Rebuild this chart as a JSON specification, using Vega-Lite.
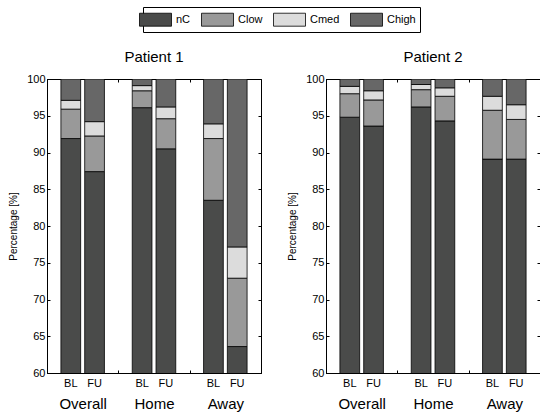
{
  "$schema": "https://vega.github.io/schema/vega-lite/v6.json",
  "padding": {"left": 8, "top": 6, "right": 0, "bottom": 0},
  "config": {
    "font": "Liberation Sans",
    "view": {"stroke": "black", "strokeWidth": 1},
    "axis": {"domainColor": "black", "tickColor": "black", "labelColor": "black", "titleColor": "black", "grid": false},
    "title": {"fontSize": 15, "fontWeight": "normal", "color": "black", "offset": 8, "anchor": "middle"}
  },
  "data": {"values": [
    {"patient": "Patient 1", "group": "Overall", "period": "BL", "cls": "nC", "rank": 1, "value": 91.9},
    {"patient": "Patient 1", "group": "Overall", "period": "BL", "cls": "Clow", "rank": 2, "value": 4.0},
    {"patient": "Patient 1", "group": "Overall", "period": "BL", "cls": "Cmed", "rank": 3, "value": 1.2},
    {"patient": "Patient 1", "group": "Overall", "period": "BL", "cls": "Chigh", "rank": 4, "value": 2.9},
    {"patient": "Patient 1", "group": "Overall", "period": "FU", "cls": "nC", "rank": 1, "value": 87.4},
    {"patient": "Patient 1", "group": "Overall", "period": "FU", "cls": "Clow", "rank": 2, "value": 4.85},
    {"patient": "Patient 1", "group": "Overall", "period": "FU", "cls": "Cmed", "rank": 3, "value": 1.95},
    {"patient": "Patient 1", "group": "Overall", "period": "FU", "cls": "Chigh", "rank": 4, "value": 5.8},
    {"patient": "Patient 1", "group": "Home", "period": "BL", "cls": "nC", "rank": 1, "value": 96.1},
    {"patient": "Patient 1", "group": "Home", "period": "BL", "cls": "Clow", "rank": 2, "value": 2.3},
    {"patient": "Patient 1", "group": "Home", "period": "BL", "cls": "Cmed", "rank": 3, "value": 0.7},
    {"patient": "Patient 1", "group": "Home", "period": "BL", "cls": "Chigh", "rank": 4, "value": 0.9},
    {"patient": "Patient 1", "group": "Home", "period": "FU", "cls": "nC", "rank": 1, "value": 90.5},
    {"patient": "Patient 1", "group": "Home", "period": "FU", "cls": "Clow", "rank": 2, "value": 4.1},
    {"patient": "Patient 1", "group": "Home", "period": "FU", "cls": "Cmed", "rank": 3, "value": 1.6},
    {"patient": "Patient 1", "group": "Home", "period": "FU", "cls": "Chigh", "rank": 4, "value": 3.8},
    {"patient": "Patient 1", "group": "Away", "period": "BL", "cls": "nC", "rank": 1, "value": 83.5},
    {"patient": "Patient 1", "group": "Away", "period": "BL", "cls": "Clow", "rank": 2, "value": 8.4},
    {"patient": "Patient 1", "group": "Away", "period": "BL", "cls": "Cmed", "rank": 3, "value": 2.0},
    {"patient": "Patient 1", "group": "Away", "period": "BL", "cls": "Chigh", "rank": 4, "value": 6.1},
    {"patient": "Patient 1", "group": "Away", "period": "FU", "cls": "nC", "rank": 1, "value": 63.6},
    {"patient": "Patient 1", "group": "Away", "period": "FU", "cls": "Clow", "rank": 2, "value": 9.3},
    {"patient": "Patient 1", "group": "Away", "period": "FU", "cls": "Cmed", "rank": 3, "value": 4.25},
    {"patient": "Patient 1", "group": "Away", "period": "FU", "cls": "Chigh", "rank": 4, "value": 22.85},
    {"patient": "Patient 2", "group": "Overall", "period": "BL", "cls": "nC", "rank": 1, "value": 94.8},
    {"patient": "Patient 2", "group": "Overall", "period": "BL", "cls": "Clow", "rank": 2, "value": 3.2},
    {"patient": "Patient 2", "group": "Overall", "period": "BL", "cls": "Cmed", "rank": 3, "value": 1.0},
    {"patient": "Patient 2", "group": "Overall", "period": "BL", "cls": "Chigh", "rank": 4, "value": 1.0},
    {"patient": "Patient 2", "group": "Overall", "period": "FU", "cls": "nC", "rank": 1, "value": 93.6},
    {"patient": "Patient 2", "group": "Overall", "period": "FU", "cls": "Clow", "rank": 2, "value": 3.55},
    {"patient": "Patient 2", "group": "Overall", "period": "FU", "cls": "Cmed", "rank": 3, "value": 1.25},
    {"patient": "Patient 2", "group": "Overall", "period": "FU", "cls": "Chigh", "rank": 4, "value": 1.6},
    {"patient": "Patient 2", "group": "Home", "period": "BL", "cls": "nC", "rank": 1, "value": 96.2},
    {"patient": "Patient 2", "group": "Home", "period": "BL", "cls": "Clow", "rank": 2, "value": 2.35},
    {"patient": "Patient 2", "group": "Home", "period": "BL", "cls": "Cmed", "rank": 3, "value": 0.7},
    {"patient": "Patient 2", "group": "Home", "period": "BL", "cls": "Chigh", "rank": 4, "value": 0.75},
    {"patient": "Patient 2", "group": "Home", "period": "FU", "cls": "nC", "rank": 1, "value": 94.3},
    {"patient": "Patient 2", "group": "Home", "period": "FU", "cls": "Clow", "rank": 2, "value": 3.35},
    {"patient": "Patient 2", "group": "Home", "period": "FU", "cls": "Cmed", "rank": 3, "value": 1.15},
    {"patient": "Patient 2", "group": "Home", "period": "FU", "cls": "Chigh", "rank": 4, "value": 1.2},
    {"patient": "Patient 2", "group": "Away", "period": "BL", "cls": "nC", "rank": 1, "value": 89.1},
    {"patient": "Patient 2", "group": "Away", "period": "BL", "cls": "Clow", "rank": 2, "value": 6.65},
    {"patient": "Patient 2", "group": "Away", "period": "BL", "cls": "Cmed", "rank": 3, "value": 1.9},
    {"patient": "Patient 2", "group": "Away", "period": "BL", "cls": "Chigh", "rank": 4, "value": 2.35},
    {"patient": "Patient 2", "group": "Away", "period": "FU", "cls": "nC", "rank": 1, "value": 89.1},
    {"patient": "Patient 2", "group": "Away", "period": "FU", "cls": "Clow", "rank": 2, "value": 5.4},
    {"patient": "Patient 2", "group": "Away", "period": "FU", "cls": "Cmed", "rank": 3, "value": 2.0},
    {"patient": "Patient 2", "group": "Away", "period": "FU", "cls": "Chigh", "rank": 4, "value": 3.5}
  ]},
  "spacing": 25,
  "resolve": {"scale": {"color": "shared"}, "legend": {"color": "shared"}},
  "hconcat": [
    {
      "title": "Patient 1",
      "width": 214,
      "height": 294,
      "transform": [{"filter": "datum.patient == 'Patient 1'"}],
      "layer": [
        {
          "mark": {"type": "bar", "clip": true, "stroke": "black", "strokeWidth": 0.8},
          "encoding": {
            "x": {
              "field": "group", "type": "nominal", "sort": ["Overall", "Home", "Away"],
              "scale": {"paddingInner": 0, "paddingOuter": 0},
              "axis": {"title": null, "labelAngle": 0, "tickBand": "extent", "tickSize": -3, "labelFontSize": 15, "labelPadding": 26}
            },
            "xOffset": {
              "field": "period", "type": "nominal", "sort": ["BL", "FU"],
              "scale": {"paddingInner": 0.17, "paddingOuter": 0.585}
            },
            "y": {
              "field": "value", "type": "quantitative", "stack": "zero",
              "scale": {"domain": [60, 100], "zero": false, "nice": false},
              "axis": {"title": "Percentage [%]", "titleFontSize": 10, "titleFontWeight": "normal", "titlePadding": 8, "values": [60, 65, 70, 75, 80, 85, 90, 95, 100], "tickSize": -3, "labelFontSize": 11, "labelPadding": 5}
            },
            "color": {
              "field": "cls", "type": "nominal",
              "scale": {"domain": ["nC", "Clow", "Cmed", "Chigh"], "range": ["#4a4b4a", "#999999", "#dcdcdc", "#676767"]},
              "legend": {
                "orient": "none", "legendX": 96, "legendY": -72, "direction": "horizontal", "title": null,
                "symbolType": "M-2,-0.81H2V0.81H-2Z", "symbolSize": 256,
                "symbolStrokeColor": "black", "symbolStrokeWidth": 0.8, "symbolOpacity": 1,
                "strokeColor": "black", "padding": 4, "columnPadding": 8,
                "labelFontSize": 11, "labelOffset": 12, "labelColor": "black"
              }
            },
            "order": {"field": "rank", "type": "quantitative"}
          }
        },
        {
          "transform": [{"filter": "datum.cls == 'nC'"}],
          "mark": {"type": "text", "baseline": "top", "dy": 5, "fontSize": 11, "color": "black"},
          "encoding": {
            "x": {
              "field": "group", "type": "nominal", "sort": ["Overall", "Home", "Away"],
              "axis": {"orient": "top", "title": null, "labels": false, "tickBand": "extent", "tickSize": -3, "domain": false}
            },
            "xOffset": {"field": "period", "type": "nominal", "sort": ["BL", "FU"]},
            "y": {"datum": 60, "type": "quantitative", "axis": {"orient": "right", "title": null, "labels": false, "tickSize": -3, "domain": false, "values": [60, 65, 70, 75, 80, 85, 90, 95, 100]}},
            "text": {"field": "period"}
          }
        }
      ],
      "resolve": {"axis": {"x": "independent", "y": "independent"}}
    },
    {
      "title": "Patient 2",
      "width": 214,
      "height": 294,
      "transform": [{"filter": "datum.patient == 'Patient 2'"}],
      "layer": [
        {
          "mark": {"type": "bar", "clip": true, "stroke": "black", "strokeWidth": 0.8},
          "encoding": {
            "x": {
              "field": "group", "type": "nominal", "sort": ["Overall", "Home", "Away"],
              "scale": {"paddingInner": 0, "paddingOuter": 0},
              "axis": {"title": null, "labelAngle": 0, "tickBand": "extent", "tickSize": -3, "labelFontSize": 15, "labelPadding": 26}
            },
            "xOffset": {
              "field": "period", "type": "nominal", "sort": ["BL", "FU"],
              "scale": {"paddingInner": 0.17, "paddingOuter": 0.585}
            },
            "y": {
              "field": "value", "type": "quantitative", "stack": "zero",
              "scale": {"domain": [60, 100], "zero": false, "nice": false},
              "axis": {"title": "Percentage [%]", "titleFontSize": 10, "titleFontWeight": "normal", "titlePadding": 8, "values": [60, 65, 70, 75, 80, 85, 90, 95, 100], "tickSize": -3, "labelFontSize": 11, "labelPadding": 5}
            },
            "color": {
              "field": "cls", "type": "nominal",
              "scale": {"domain": ["nC", "Clow", "Cmed", "Chigh"], "range": ["#4a4b4a", "#999999", "#dcdcdc", "#676767"]},
              "legend": {
                "orient": "none", "legendX": 96, "legendY": -72, "direction": "horizontal", "title": null,
                "symbolType": "M-2,-0.81H2V0.81H-2Z", "symbolSize": 256,
                "symbolStrokeColor": "black", "symbolStrokeWidth": 0.8, "symbolOpacity": 1,
                "strokeColor": "black", "padding": 4, "columnPadding": 8,
                "labelFontSize": 11, "labelOffset": 12, "labelColor": "black"
              }
            },
            "order": {"field": "rank", "type": "quantitative"}
          }
        },
        {
          "transform": [{"filter": "datum.cls == 'nC'"}],
          "mark": {"type": "text", "baseline": "top", "dy": 5, "fontSize": 11, "color": "black"},
          "encoding": {
            "x": {
              "field": "group", "type": "nominal", "sort": ["Overall", "Home", "Away"],
              "axis": {"orient": "top", "title": null, "labels": false, "tickBand": "extent", "tickSize": -3, "domain": false}
            },
            "xOffset": {"field": "period", "type": "nominal", "sort": ["BL", "FU"]},
            "y": {"datum": 60, "type": "quantitative", "axis": {"orient": "right", "title": null, "labels": false, "tickSize": -3, "domain": false, "values": [60, 65, 70, 75, 80, 85, 90, 95, 100]}},
            "text": {"field": "period"}
          }
        }
      ],
      "resolve": {"axis": {"x": "independent", "y": "independent"}}
    }
  ]
}
